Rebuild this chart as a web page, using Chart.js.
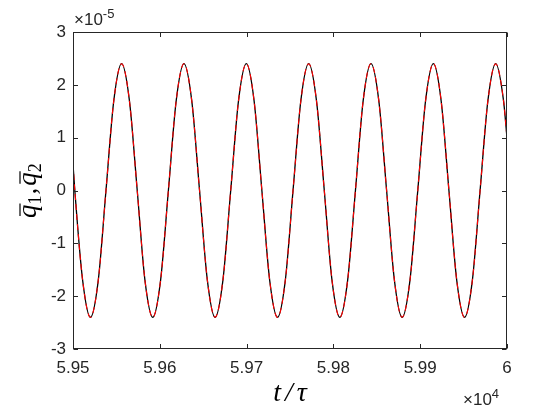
<!DOCTYPE html>
<html>
<head>
<meta charset="utf-8">
<script src="https://cdn.jsdelivr.net/npm/chart.js@4/dist/chart.umd.min.js"></script>
<style>
  html, body { margin: 0; padding: 0; background: #fff; }
  #wrap { width: 560px; height: 420px; }
</style>
</head>
<body>
<div id="wrap"><canvas id="myChart" width="560" height="420"></canvas></div>
<script>
// time t/tau (peaks/zeros/troughs every ~1/8 period)
var tVals = [59500, 59502.1, 59511.1, 59520.1, 59529.1, 59538.0, 59547.0,
  59556.0, 59565.0, 59574.0, 59582.9, 59591.9, 59600.9, 59609.9, 59618.9,
  59627.8, 59636.8, 59645.8, 59654.8, 59663.7, 59672.7, 59681.7, 59690.7,
  59699.7, 59708.6, 59717.6, 59726.6, 59735.6, 59744.6, 59753.5, 59762.5,
  59771.5, 59780.5, 59789.5, 59798.4, 59807.4, 59816.4, 59825.4, 59834.3,
  59843.3, 59852.3, 59861.3, 59870.3, 59879.2, 59888.2, 59897.2, 59906.2,
  59915.2, 59924.1, 59933.1, 59942.1, 59951.1, 59960.1, 59969.0, 59978.0,
  59987.0, 59996.0, 60000];

// q1 bar, in units of 1e-5
var q1 = [0.5, 0, -1.7, -2.4, -1.7, 0, 1.7,
  2.4, 1.7, 0, -1.7, -2.4, -1.7, 0, 1.7,
  2.4, 1.7, 0, -1.7, -2.4, -1.7, 0, 1.7,
  2.4, 1.7, 0, -1.7, -2.4, -1.7, 0, 1.7,
  2.4, 1.7, 0, -1.7, -2.4, -1.7, 0, 1.7,
  2.4, 1.7, 0, -1.7, -2.4, -1.7, 0, 1.7,
  2.4, 1.7, 0, -1.7, -2.4, -1.7, 0, 1.7,
  2.4, 1.7, 1.0];

// q2 bar, in units of 1e-5 (lies on top of q1)
var q2 = [0.5, 0, -1.7, -2.4, -1.7, 0, 1.7,
  2.4, 1.7, 0, -1.7, -2.4, -1.7, 0, 1.7,
  2.4, 1.7, 0, -1.7, -2.4, -1.7, 0, 1.7,
  2.4, 1.7, 0, -1.7, -2.4, -1.7, 0, 1.7,
  2.4, 1.7, 0, -1.7, -2.4, -1.7, 0, 1.7,
  2.4, 1.7, 0, -1.7, -2.4, -1.7, 0, 1.7,
  2.4, 1.7, 0, -1.7, -2.4, -1.7, 0, 1.7,
  2.4, 1.7, 1.0];

var xTicks = [59500, 59600, 59700, 59800, 59900, 60000];
var yTicks = [-3, -2, -1, 0, 1, 2, 3];

var axisColor = '#262626';
var tickFont = { family: 'Liberation Sans, Arial, sans-serif', size: 17 };

function pts(ys) {
  return tVals.map(function (x, i) { return { x: x, y: ys[i] }; });
}

// box, inward ticks, exponent labels and LaTeX-like axis titles
var matlabAxes = {
  id: 'matlabAxes',
  afterDraw: function (chart) {
    var ctx = chart.ctx, a = chart.chartArea;
    var xs = chart.scales.x, ys = chart.scales.y;
    var L = Math.round(a.left) + 0.5, R = Math.round(a.right) - 0.5;
    var T = Math.round(a.top) + 0.5, B = Math.round(a.bottom) - 0.5;
    ctx.save();
    ctx.strokeStyle = axisColor;
    ctx.lineWidth = 1;
    ctx.strokeRect(L, T, R - L, B - T);
    var tl = 4.5;
    ctx.beginPath();
    xTicks.forEach(function (v) {
      var px = Math.round(xs.getPixelForValue(v)) + 0.5;
      ctx.moveTo(px, B); ctx.lineTo(px, B - tl);
      ctx.moveTo(px, T); ctx.lineTo(px, T + tl);
    });
    yTicks.forEach(function (v) {
      var py = Math.round(ys.getPixelForValue(v)) + 0.5;
      ctx.moveTo(L, py); ctx.lineTo(L + tl, py);
      ctx.moveTo(R, py); ctx.lineTo(R - tl, py);
    });
    ctx.stroke();

    // exponents
    ctx.fillStyle = axisColor;
    ctx.textBaseline = 'alphabetic';
    ctx.textAlign = 'left';
    ctx.font = '17px Liberation Sans, Arial, sans-serif';
    var w1 = ctx.measureText('\u00d710').width;
    ctx.fillText('\u00d710', 74, 25);
    ctx.font = '13px Liberation Sans, Arial, sans-serif';
    ctx.fillText('-5', 74 + w1, 18);

    ctx.font = '17px Liberation Sans, Arial, sans-serif';
    var w2 = ctx.measureText('\u00d710').width;
    ctx.fillText('\u00d710', 463, 405);
    ctx.font = '13px Liberation Sans, Arial, sans-serif';
    ctx.fillText('4', 463 + w2, 398);

    // x title  t/tau, spaced like LaTeX math
    ctx.fillStyle = '#000';
    ctx.font = 'italic 28px Liberation Serif, serif';
    var parts = ['t', '/', '\u03c4'];
    var gap = 4;
    var widths = parts.map(function (p) { return ctx.measureText(p).width; });
    var tw = widths.reduce(function (s, w) { return s + w; }, 0) + gap * 2;
    var cx = (a.left + a.right) / 2 - tw / 2;
    parts.forEach(function (p, i) {
      ctx.fillText(p, cx, 401);
      cx += widths[i] + gap;
    });

    // y title  q1bar, q2bar
    ctx.translate(36, (a.top + a.bottom) / 2);
    ctx.rotate(-Math.PI / 2);
    var big = 'italic 27px Liberation Serif, serif';
    var sub = '18px Liberation Serif, serif';
    ctx.font = big; var wq = ctx.measureText('q').width;
    ctx.font = sub; var ws = ctx.measureText('1').width;
    ctx.font = big; var wc = ctx.measureText(',').width;
    var total = 2 * (wq + ws) + wc + 3;
    var x0 = -total / 2;
    function qbar(x, s) {
      ctx.font = big;
      ctx.fillText('q', x, 0);
      ctx.beginPath();
      ctx.lineWidth = 1.2;
      ctx.strokeStyle = '#000';
      ctx.moveTo(x + 2, -16); ctx.lineTo(x + wq + 1, -16);
      ctx.stroke();
      ctx.font = sub;
      ctx.fillText(s, x + wq, 5);
      return x + wq + ws;
    }
    var x1 = qbar(x0, '1');
    ctx.font = big;
    ctx.fillText(',', x1 + 1, 0);
    qbar(x1 + wc + 3, '2');
    ctx.restore();
  }
};

var ctx = document.getElementById('myChart').getContext('2d');
var myChart = new Chart(ctx, {
  type: 'line',
  data: {
    datasets: [{
      label: 'q2',
      data: pts(q2),
      borderColor: '#ff0000',
      borderWidth: 1.1,
      borderDash: [6, 4],
      pointRadius: 0,
      cubicInterpolationMode: 'monotone',
      fill: false,
      order: 0
    }, {
      label: 'q1',
      data: pts(q1),
      borderColor: '#000000',
      borderWidth: 1.3,
      pointRadius: 0,
      cubicInterpolationMode: 'monotone',
      fill: false,
      order: 1
    }]
  },
  options: {
    responsive: false,
    animation: false,
    events: [],
    layout: { padding: { top: 32, right: 53, left: 0, bottom: 0 } },
    plugins: { legend: { display: false }, tooltip: { enabled: false } },
    scales: {
      x: {
        type: 'linear',
        min: 59500, max: 60000,
        grid: { display: false, drawTicks: false },
        border: { display: false },
        afterFit: function (s) { s.height = 71; },
        afterBuildTicks: function (s) { s.ticks = xTicks.map(function (v) { return { value: v }; }); },
        ticks: {
          autoSkip: false, maxRotation: 0, padding: 9,
          color: axisColor, font: tickFont,
          callback: function (v) { return String(+(v / 1e4).toFixed(2)); }
        }
      },
      y: {
        min: -3, max: 3,
        grid: { display: false, drawTicks: false },
        border: { display: false },
        afterFit: function (s) { s.width = 73; },
        afterBuildTicks: function (s) { s.ticks = yTicks.map(function (v) { return { value: v }; }); },
        ticks: {
          autoSkip: false, padding: 7,
          color: axisColor, font: tickFont,
          callback: function (v) { return String(v); }
        }
      }
    }
  },
  plugins: [matlabAxes]
});
</script>
</body>
</html>
